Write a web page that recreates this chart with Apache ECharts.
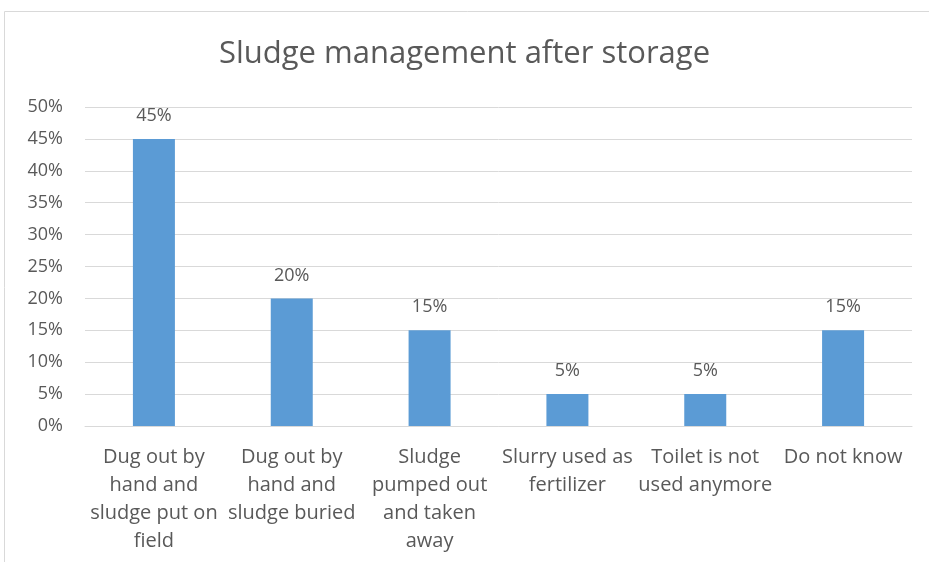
<!DOCTYPE html>
<html>
<head>
<meta charset="utf-8">
<script src="https://cdn.jsdelivr.net/npm/echarts@6/dist/echarts.min.js"></script>
<style>
  html, body { margin: 0; padding: 0; background: #fff; }
  #chart { width: 929px; height: 562px; }
</style>
</head>
<body>
<div id="chart"></div>
<script>
var categories = [
  'Dug out by\nhand and\nsludge put on\nfield',
  'Dug out by\nhand and\nsludge buried',
  'Sludge\npumped out\nand taken\naway',
  'Slurry used as\nfertilizer',
  'Toilet is not\nused anymore',
  'Do not know'
];
var values = [45, 20, 15, 5, 5, 15];

var myChart = echarts.init(document.getElementById('chart'));
myChart.setOption({
  animation: false,
  textStyle: { fontFamily: 'Open Sans' },
  graphic: [{
    type: 'rect',
    shape: { x: 4.5, y: 11.5, width: 940, height: 560 },
    style: { fill: 'none', stroke: '#d9d9d9', lineWidth: 1 },
    silent: true
  }],
  title: {
    text: 'Sludge management after storage',
    left: 'center',
    top: 34,
    textStyle: { color: '#595959', fontSize: 31, fontWeight: 'normal', fontFamily: 'Open Sans' }
  },
  grid: { left: 85, right: 17, top: 107, bottom: 136 },
  xAxis: {
    type: 'category',
    data: categories,
    axisTick: { show: false },
    axisLine: { show: true, lineStyle: { color: '#d9d9d9' } },
    axisLabel: {
      interval: 0,
      color: '#595959',
      fontSize: 20,
      lineHeight: 28,
      margin: 17
    }
  },
  yAxis: {
    type: 'value',
    min: 0,
    max: 50,
    interval: 5,
    axisLine: { show: false },
    axisTick: { show: false },
    splitLine: { lineStyle: { color: '#d9d9d9', width: 1 } },
    axisLabel: {
      formatter: '{value}%',
      color: '#595959',
      fontSize: 18,
      margin: 22
    }
  },
  series: [{
    type: 'bar',
    data: values,
    barWidth: 42,
    itemStyle: { color: '#5b9bd5' },
    label: {
      show: true,
      position: 'top',
      formatter: '{c}%',
      color: '#595959',
      fontSize: 18,
      distance: 14
    }
  }]
});
</script>
</body>
</html>
